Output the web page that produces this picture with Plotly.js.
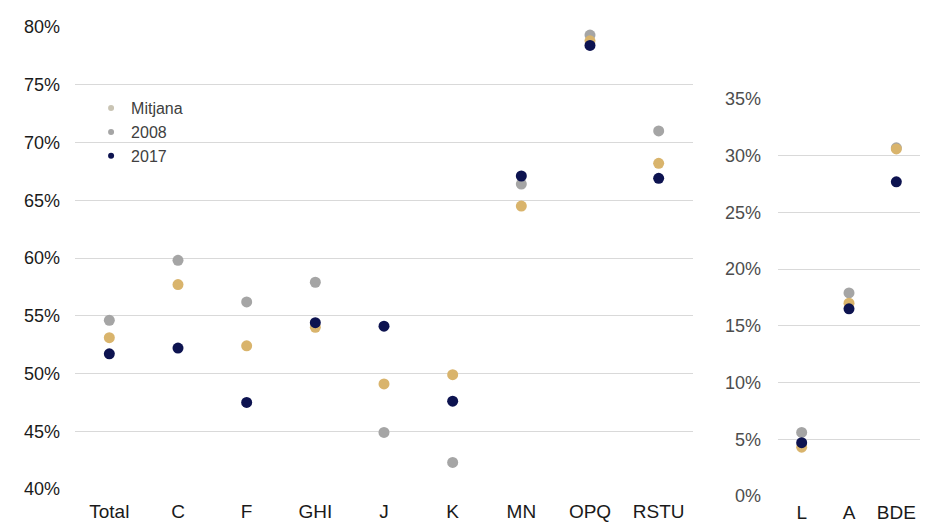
<!DOCTYPE html>
<html>
<head>
<meta charset="utf-8">
<script src="https://cdn.plot.ly/plotly-3.0.1.min.js"></script>
<style>html,body{margin:0;padding:0;background:#fff;}#chart{width:939px;height:524px;}</style>
</head>
<body>
<div id="chart"></div>
<script>
// Left panel
const catsLeft = ["Total", "C", "F", "GHI", "J", "K", "MN", "OPQ", "RSTU"];
const mitjanaLeft = [0.531, 0.577, 0.524, 0.540, 0.491, 0.499, 0.645, 0.788, 0.682];
const y2008Left   = [0.546, 0.598, 0.562, 0.579, 0.449, 0.423, 0.664, 0.793, 0.710];
const y2017Left   = [0.517, 0.522, 0.475, 0.544, 0.541, 0.476, 0.671, 0.784, 0.669];
// Right panel
const catsRight = ["L", "A", "BDE"];
const mitjanaRight = [0.043, 0.170, 0.306];
const y2008Right   = [0.056, 0.179, 0.307];
const y2017Right   = [0.047, 0.165, 0.277];

const seriesNames = ["Mitjana", "2008", "2017"];
const colors = {"Mitjana": "#d9b46c", "2008": "#a5a5a5", "2017": "#0d1350"};
const legendColors = {"Mitjana": "#c9c4b4", "2008": "#a5a5a5", "2017": "#0d1350"};
const leftData = {"Mitjana": mitjanaLeft, "2008": y2008Left, "2017": y2017Left};
const rightData = {"Mitjana": mitjanaRight, "2008": y2008Right, "2017": y2017Right};
const drawOrder = ["2008", "Mitjana", "2017"];

const traces = [];
drawOrder.forEach(n => {
  traces.push({type: "scatter", mode: "markers", name: n, x: catsLeft, y: leftData[n],
    xaxis: "x", yaxis: "y", showlegend: false,
    marker: {color: colors[n], size: 11}});
  traces.push({type: "scatter", mode: "markers", name: n, x: catsRight, y: rightData[n],
    xaxis: "x2", yaxis: "y2", showlegend: false,
    marker: {color: colors[n], size: 11}});
});
seriesNames.forEach(n => {
  traces.push({type: "scatter", mode: "markers", name: n, x: [null], y: [null],
    xaxis: "x", yaxis: "y", showlegend: true,
    marker: {color: legendColors[n], size: 6}});
});

const fam = "Liberation Sans, Arial, sans-serif";
const layout = {
  width: 939, height: 524,
  margin: {l: 0, r: 0, t: 0, b: 0},
  paper_bgcolor: "#ffffff", plot_bgcolor: "#ffffff",
  showlegend: true,
  legend: {x: 0.097, y: 0.826, xanchor: "left", yanchor: "top",
    font: {family: fam, size: 16, color: "#404040"},
    bgcolor: "rgba(0,0,0,0)", itemwidth: 30, tracegroupgap: 0},
  xaxis: {domain: [75/939, 693/939], type: "category", range: [-0.5, 8.5],
    showgrid: false, zeroline: false, showline: false, ticks: "",
    tickfont: {family: fam, size: 19, color: "#1a1a1a"}, ticklabelstandoff: 9,
    anchor: "y", fixedrange: true},
  yaxis: {domain: [35/524, 1 - 27/524], range: [0.40, 0.80], dtick: 0.05,
    tickformat: ".0%", showgrid: true, gridcolor: "#d9d9d9", gridwidth: 1,
    zeroline: false, showline: false, ticks: "",
    tickfont: {family: fam, size: 18, color: "#1a1a1a"},
    ticklabelstandoff: 14, anchor: "x", fixedrange: true},
  xaxis2: {domain: [778/939, 920/939], type: "category", range: [-0.5, 2.5],
    showgrid: false, zeroline: false, showline: false, ticks: "",
    tickfont: {family: fam, size: 19, color: "#1a1a1a"}, ticklabelstandoff: 3,
    anchor: "y2", fixedrange: true},
  yaxis2: {domain: [28/524, 1 - 99/524], range: [0, 0.35], dtick: 0.05,
    tickformat: ".0%", showgrid: true, gridcolor: "#d9d9d9", gridwidth: 1,
    zeroline: false, showline: false, ticks: "",
    tickfont: {family: fam, size: 18, color: "#4d4d4d"},
    ticklabelstandoff: 16, anchor: "x2", fixedrange: true}
};
Plotly.newPlot("chart", traces, layout, {displayModeBar: false, staticPlot: true});
</script>
</body>
</html>
